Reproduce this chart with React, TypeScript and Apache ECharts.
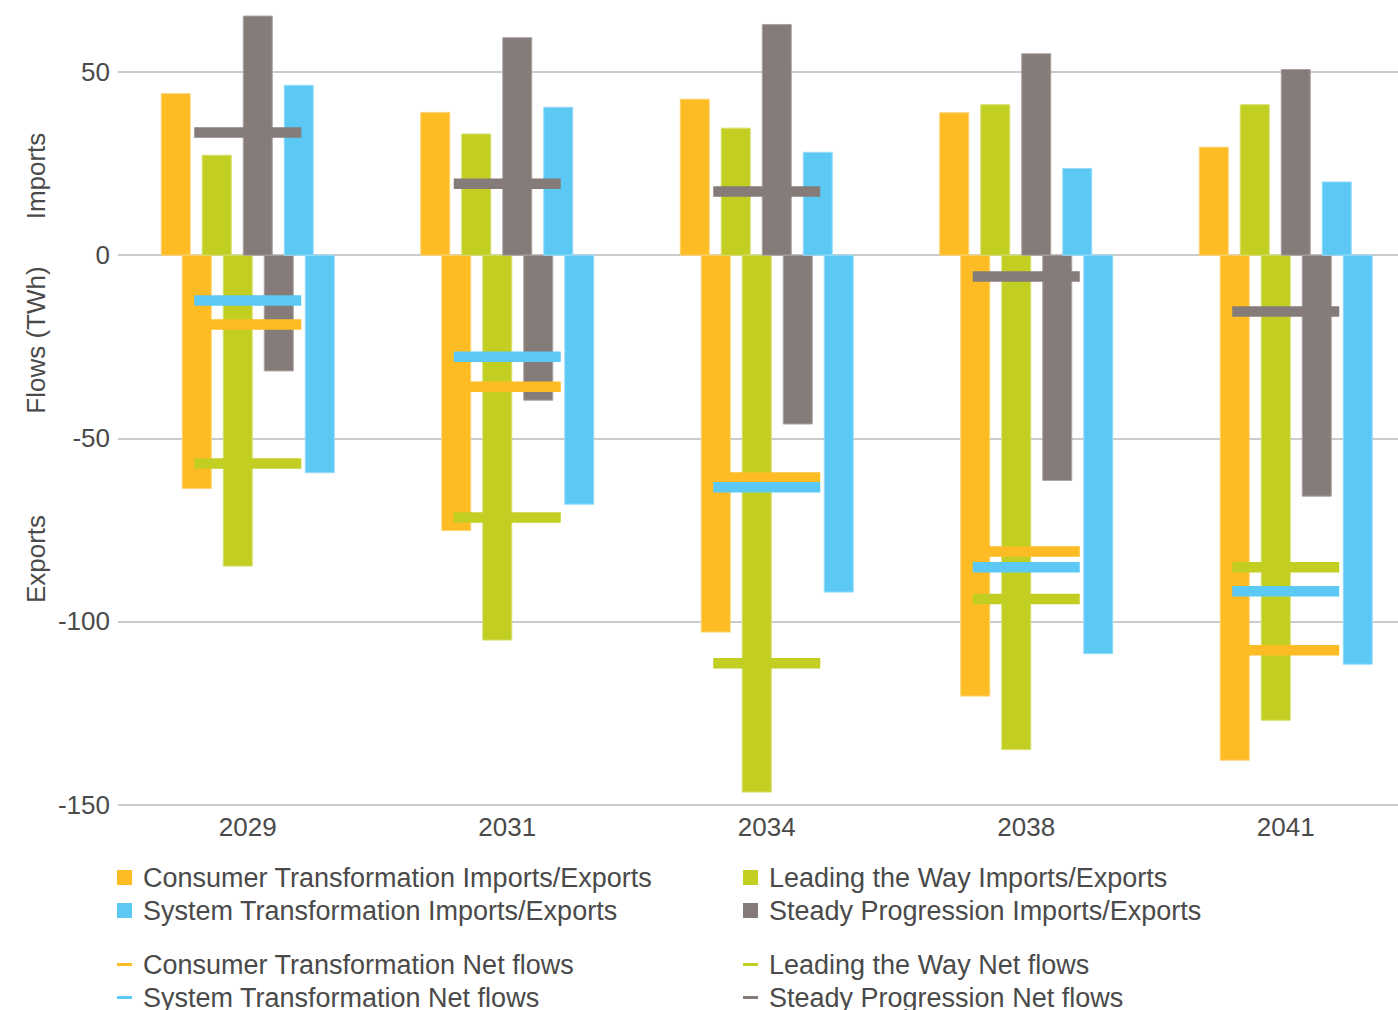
import React, { useEffect, useRef } from "react";
import * as echarts from "echarts";

// ---- Data ----
const YEARS = ["2029", "2031", "2034", "2038", "2041"];

const CT_IMPORTS = [44.1, 39.0, 42.6, 38.9, 29.5];
const LW_IMPORTS = [27.3, 33.1, 34.7, 41.1, 41.1];
const SP_IMPORTS = [65.3, 59.4, 63.0, 55.0, 50.7];
const ST_IMPORTS = [46.4, 40.4, 28.1, 23.7, 20.0];

const CT_EXPORTS = [-63.7, -75.2, -102.9, -120.4, -137.9];
const LW_EXPORTS = [-84.9, -105.1, -146.6, -135.0, -127.0];
const SP_EXPORTS = [-31.6, -39.6, -46.1, -61.5, -65.8];
const ST_EXPORTS = [-59.4, -68.0, -92.0, -108.8, -111.7];

const CT_NET = [-18.9, -35.9, -60.7, -80.9, -107.9];
const LW_NET = [-56.9, -71.6, -111.4, -93.9, -85.2];
const SP_NET = [33.5, 19.5, 17.4, -5.8, -15.4];
const ST_NET = [-12.4, -27.7, -63.4, -85.2, -91.8];

const Y_TICKS = [-150, -100, -50, 0, 50];

// ---- Style ----
const FONT = "'Liberation Sans', Arial, Helvetica, sans-serif";
const TEXT = "#4a4a4a";
const ORANGE = "#FDBC23";
const GREEN = "#C2CE22";
const GREY = "#857B79";
const BLUE = "#5CC9F5";

// The chart canvas extends beyond the visible page (top, right, bottom) so the plot matches the cropped reference.
const SHIFT_Y = 111; // hidden band above the page
const EXTRA_X = 18; // hidden band right of the page
const EXTRA_B = 60; // hidden band below the page
const CW = 1398 + EXTRA_X;
const CH = 1010 + SHIFT_Y + EXTRA_B;

const BAND = 259.5; // reference band width in px, used for relative geometry
const BAR_W = 29 / BAND;
const NET_W = 107 / BAND;
const NET_H = 10.5;

function barSeries(name: string, color: string, edge: string, imports: number[], exports: number[], impOff: number, expOff: number) {
  return {
    type: "custom",
    name,
    itemStyle: { color },
    encode: { x: 0, y: [1, 2] },
    data: YEARS.map((_, i) => [i, imports[i], exports[i]]),
    z: 2,
    renderItem: (params: any, api: any) => {
      const idx = api.value(0);
      const imp = api.value(1);
      const exp = api.value(2);
      const c0 = api.coord([idx, 0]);
      const cTop = api.coord([idx, imp]);
      const cBot = api.coord([idx, exp]);
      const bw = api.size([1, 0])[0];
      const w = bw * BAR_W;
      const xi = c0[0] + (bw * impOff) / BAND - w / 2;
      const xe = c0[0] + (bw * expOff) / BAND - w / 2;
      const st = { fill: color, stroke: edge, lineWidth: 1 };
      return {
        type: "group",
        children: [
          { type: "rect", shape: { x: xi, y: cTop[1], width: w, height: c0[1] - cTop[1] }, style: st },
          { type: "rect", shape: { x: xe, y: c0[1], width: w, height: cBot[1] - c0[1] }, style: st },
        ],
      };
    },
  };
}

function netSeries(name: string, color: string, values: number[], z: number) {
  return {
    type: "custom",
    name,
    itemStyle: { color },
    encode: { x: 0, y: 1 },
    data: YEARS.map((_, i) => [i, values[i]]),
    z,
    renderItem: (params: any, api: any) => {
      const idx = api.value(0);
      const v = api.value(1);
      const c = api.coord([idx, v]);
      const bw = api.size([1, 0])[0];
      const w = bw * NET_W;
      return {
        type: "rect",
        shape: { x: c[0] - w / 2, y: c[1] - NET_H / 2, width: w, height: NET_H },
        style: { fill: color },
      };
    },
  };
}

const N_CT = "Consumer Transformation Imports/Exports";
const N_LW = "Leading the Way Imports/Exports";
const N_ST = "System Transformation Imports/Exports";
const N_SP = "Steady Progression Imports/Exports";
const N_CTN = "Consumer Transformation Net flows";
const N_LWN = "Leading the Way Net flows";
const N_STN = "System Transformation Net flows";
const N_SPN = "Steady Progression Net flows";

export default function App() {
  const ref = useRef<HTMLDivElement>(null);

  useEffect(() => {
    if (!ref.current) return;
    const chart = echarts.init(ref.current, undefined, { renderer: "svg" });

    const legendBase: any = {
      orient: "vertical",
      padding: 0,
      itemWidth: 15,
      itemHeight: 15,
      itemGap: 6,
      selectedMode: false,
      textStyle: { fontSize: 27, color: TEXT, fontFamily: FONT, lineHeight: 27, padding: [0, 0, 0, 6] },
    };

    const plotBottomPage = 804.5; // y of the -150 line on the page
    const option: any = {
      animation: false,
      textStyle: { fontFamily: FONT },
      grid: {
        left: 118,
        right: CW - (118 + BAND * YEARS.length),
        top: 0,
        bottom: CH - (plotBottomPage + SHIFT_Y),
        containLabel: false,
      },
      xAxis: {
        type: "category",
        data: YEARS,
        boundaryGap: true,
        axisLine: { show: false },
        axisTick: { show: false },
        axisLabel: { fontSize: 26, color: TEXT, fontFamily: FONT, margin: 9 },
        splitLine: { show: false },
      },
      yAxis: {
        type: "value",
        min: -150,
        max: 100,
        interval: 50,
        axisLine: { show: false },
        axisTick: { show: false },
        axisLabel: {
          fontSize: 26,
          color: TEXT,
          fontFamily: FONT,
          margin: 8,
          formatter: (v: number) => (Y_TICKS.includes(v) ? String(v) : ""),
        },
        splitLine: { lineStyle: { color: "#cbcbcb", width: 1.8 } },
      },
      legend: [
        {
          ...legendBase,
          left: 117,
          top: 864 + SHIFT_Y,
          data: [
            { name: N_CT, icon: "rect" },
            { name: N_ST, icon: "rect" },
          ],
        },
        {
          ...legendBase,
          left: 743,
          top: 864 + SHIFT_Y,
          data: [
            { name: N_LW, icon: "rect" },
            { name: N_SP, icon: "rect" },
          ],
        },
        {
          ...legendBase,
          itemHeight: 3,
          left: 117,
          top: 951 + SHIFT_Y,
          data: [
            { name: N_CTN, icon: "rect" },
            { name: N_STN, icon: "rect" },
          ],
        },
        {
          ...legendBase,
          itemHeight: 3,
          left: 743,
          top: 951 + SHIFT_Y,
          data: [
            { name: N_LWN, icon: "rect" },
            { name: N_SPN, icon: "rect" },
          ],
        },
      ],
      graphic: [
        {
          type: "text",
          x: 36,
          y: 176 + SHIFT_Y,
          rotation: Math.PI / 2,
          style: { text: "Imports", fontSize: 26, fontFamily: FONT, fill: TEXT, align: "center", verticalAlign: "middle" },
        },
        {
          type: "text",
          x: 36,
          y: 340 + SHIFT_Y,
          rotation: Math.PI / 2,
          style: { text: "Flows (TWh)", fontSize: 26, fontFamily: FONT, fill: TEXT, align: "center", verticalAlign: "middle" },
        },
        {
          type: "text",
          x: 36,
          y: 559 + SHIFT_Y,
          rotation: Math.PI / 2,
          style: { text: "Exports", fontSize: 26, fontFamily: FONT, fill: TEXT, align: "center", verticalAlign: "middle" },
        },
      ],
      series: [
        barSeries(N_CT, ORANGE, "#fdd373", CT_IMPORTS, CT_EXPORTS, -72, -51),
        barSeries(N_LW, GREEN, "#d6df6e", LW_IMPORTS, LW_EXPORTS, -31, -10),
        barSeries(N_SP, GREY, "#aaa3a1", SP_IMPORTS, SP_EXPORTS, 10, 31),
        barSeries(N_ST, BLUE, "#96dcf8", ST_IMPORTS, ST_EXPORTS, 51, 72),
        netSeries(N_CTN, ORANGE, CT_NET, 3),
        netSeries(N_LWN, GREEN, LW_NET, 3),
        netSeries(N_STN, BLUE, ST_NET, 4),
        netSeries(N_SPN, GREY, SP_NET, 4),
      ],
    };

    chart.setOption(option);
    return () => chart.dispose();
  }, []);

  return (
    <div
      style={{
        position: "fixed",
        left: 0,
        top: 0,
        width: 1398,
        height: 1010,
        overflow: "hidden",
        background: "#fff",
      }}
    >
      <div
        ref={ref}
        style={{ position: "absolute", left: 0, top: -SHIFT_Y, width: CW, height: CH }}
      />
    </div>
  );
}
